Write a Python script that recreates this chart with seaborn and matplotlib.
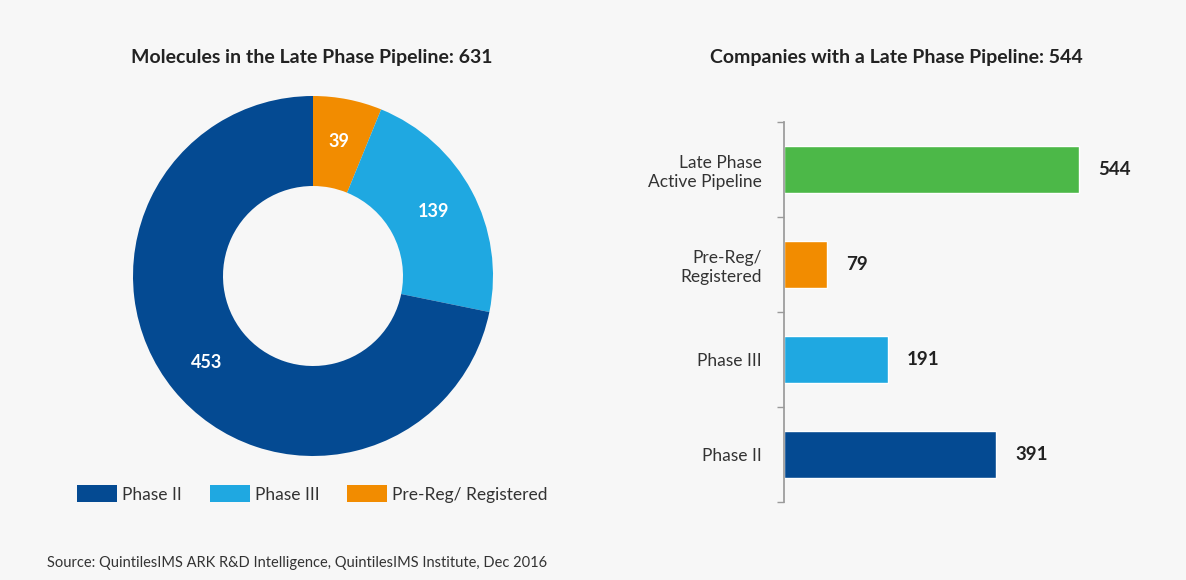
import matplotlib
matplotlib.use("Agg")
import matplotlib.pyplot as plt
import seaborn as sns
from matplotlib.patches import Patch
import numpy as np

# Datos
fases_dona = ["Pre-Reg/ Registered", "Phase III", "Phase II"]
moleculas = [39, 139, 453]
colores_dona = ["#f28c00", "#1fa8e1", "#044a92"]

categorias_barras = ["Late Phase\nActive Pipeline", "Pre-Reg/\nRegistered", "Phase III", "Phase II"]
companias = [544, 79, 191, 391]
colores_barras = ["#4cb848", "#f28c00", "#1fa8e1", "#044a92"]

leyenda_nombres = ["Phase II", "Phase III", "Pre-Reg/ Registered"]
leyenda_colores = ["#044a92", "#1fa8e1", "#f28c00"]

titulo_izq = "Molecules in the Late Phase Pipeline: 631"
titulo_der = "Companies with a Late Phase Pipeline: 544"
fuente = "Source: QuintilesIMS ARK R&D Intelligence, QuintilesIMS Institute, Dec 2016"

sns.set_theme(style="white")
plt.rcParams["font.family"] = ["Lato", "DejaVu Sans"]

W, H = 1186, 580
fondo = "#f7f7f7"
fig = plt.figure(figsize=(W / 100, H / 100), dpi=100, facecolor=fondo)


def caja(izq, arriba, ancho, alto):
    return [izq / W, 1 - (arriba + alto) / H, ancho / W, alto / H]


# Dona
ax1 = fig.add_axes(caja(133, 96, 360, 360))
ax1.set_facecolor(fondo)
cunas, _ = ax1.pie(moleculas, colors=colores_dona, startangle=90, counterclock=False,
                   wedgeprops=dict(width=0.5, linewidth=0))
for cuna, v in zip(cunas, moleculas):
    ang = np.deg2rad((cuna.theta1 + cuna.theta2) / 2)
    ax1.text(0.76 * np.cos(ang), 0.76 * np.sin(ang), str(v), color="white",
             fontsize=13, fontweight="bold", ha="center", va="center")
ax1.set_xlim(-1, 1)
ax1.set_ylim(-1, 1)
ax1.set_aspect("equal")

fig.text(312 / W, 1 - 57 / H, titulo_izq, ha="center", va="center",
         fontsize=14, fontweight="bold", color="#222222")

# Barras
ax2 = fig.add_axes(caja(784, 122, 366, 380))
ax2.set_facecolor(fondo)
sns.barplot(x=companias, y=categorias_barras, hue=categorias_barras, palette=colores_barras,
            orient="h", width=0.5, legend=False, ax=ax2, saturation=1)
ax2.set_xlim(0, 675)
ax2.set_ylim(3.5, -0.5)
for cont in ax2.containers:
    ax2.bar_label(cont, padding=14, fontsize=13.5, fontweight="bold", color="#222222")
sns.despine(ax=ax2, left=False, bottom=True)
ax2.spines["left"].set_color("#9a9a9a")
ax2.set_xticks([])
ax2.set_xlabel("")
ax2.set_ylabel("")
ax2.set_yticks(np.arange(-0.5, 4, 1), minor=True)
ax2.tick_params(axis="y", which="major", length=0, pad=16, labelsize=12.5, labelcolor="#333333")
ax2.tick_params(axis="y", which="minor", length=5, color="#9a9a9a", left=True)
for t in ax2.get_yticklabels():
    t.set_multialignment("right")

fig.text(896 / W, 1 - 57 / H, titulo_der, ha="center", va="center",
         fontsize=14, fontweight="bold", color="#222222")

# Leyenda
manijas = [Patch(facecolor=c, edgecolor="none") for c in leyenda_colores]
fig.legend(manijas, leyenda_nombres, loc="center left", bbox_to_anchor=(77 / W, 1 - 494 / H),
           ncol=3, frameon=False, fontsize=12.5, handlelength=2.3, handleheight=1.15,
           handletextpad=0.3, columnspacing=1.6, borderpad=0, borderaxespad=0,
           labelcolor="#333333")

fig.text(47 / W, 1 - 563 / H, fuente, ha="left", va="center", fontsize=10.5, color="#333333")

plt.savefig("out.png", dpi=100, facecolor=fondo)
plt.close()
